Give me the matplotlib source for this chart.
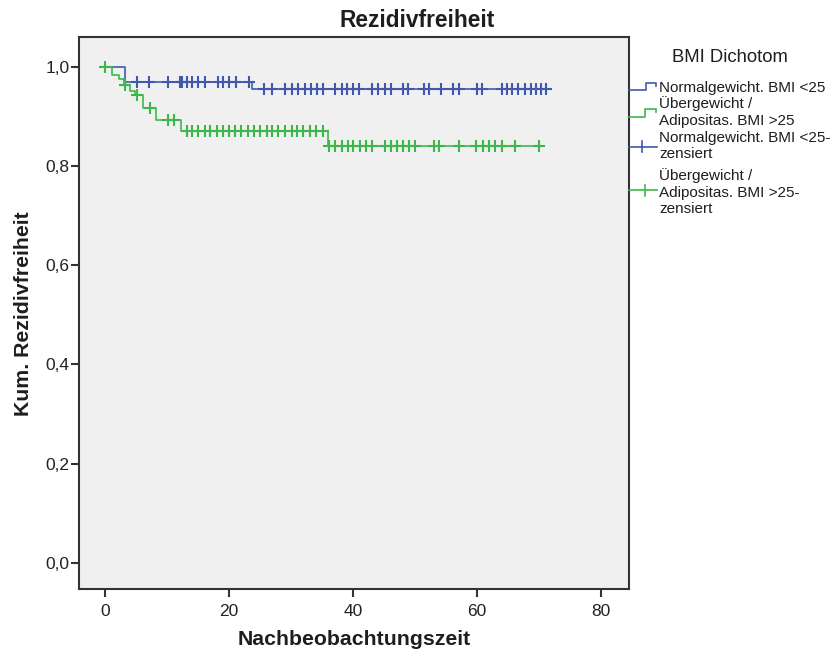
import matplotlib
matplotlib.use("Agg")
import matplotlib.pyplot as plt
from matplotlib.ticker import FuncFormatter

plt.rcParams['font.family'] = ['Liberation Sans', 'DejaVu Sans']

# Kaplan-Meier step values (time, survival)
normal_times = [0, 3.3, 23.7, 71.2]
normal_surv = [1.0, 0.969, 0.955, 0.955]
normal_censored = [5.1, 7.1, 10.2, 12.1, 12.4, 13.2, 14.0, 15.0, 16.1, 18.2, 19.1,
                   20.0, 21.1, 23.2, 25.7, 26.9, 29.0, 30.1, 31.2, 32.3, 33.2, 34.2,
                   35.1, 37.1, 38.2, 39.0, 40.0, 41.0, 43.1, 44.1, 45.2, 46.1, 48.1,
                   48.9, 51.4, 52.2, 54.2, 56.2, 57.1, 60.0, 60.9, 64.0, 64.8, 65.7,
                   66.7, 67.7, 68.7, 69.6, 70.4, 71.2]

over_times = [0, 1.2, 2.2, 3.0, 4.1, 4.8, 6.1, 8.2, 12.2, 36.0, 70.0]
over_surv = [1.0, 0.984, 0.976, 0.963, 0.952, 0.944, 0.918, 0.893, 0.871, 0.840, 0.840]
over_censored = [0.0, 3.2, 5.1, 7.3, 10.2, 11.1, 13.2, 14.1, 15.0, 16.1, 17.0, 18.0,
                 19.1, 20.0, 21.0, 22.0, 23.1, 24.0, 25.0, 26.1, 27.0, 27.9, 29.0,
                 30.1, 30.9, 32.0, 33.0, 34.0, 35.1, 36.2, 37.1, 38.2, 39.2, 40.0,
                 41.1, 42.1, 43.0, 45.2, 46.1, 47.1, 48.1, 49.1, 50.0, 53.0, 53.9,
                 57.1, 59.9, 61.0, 62.0, 62.9, 64.0, 66.1, 70.0]

x_ticks = [0, 20, 40, 60, 80]
y_ticks = [0.0, 0.2, 0.4, 0.6, 0.8, 1.0]

legend_title = "BMI Dichotom"
group_labels = [["Normalgewicht. BMI <25"],
                ["Übergewicht /", "Adipositas. BMI >25"],
                ["Normalgewicht. BMI <25-", "zensiert"],
                ["Übergewicht /", "Adipositas. BMI >25-", "zensiert"]]

BLUE = "#4159ad"
GREEN = "#3cb84a"
TEXT = "#1e1e1e"


def surv_at(times, surv, t):
    val = surv[0]
    for ti, si in zip(times, surv):
        if t >= ti:
            val = si
    return val


fig = plt.figure(figsize=(8.35, 6.54), dpi=100)
fig.patch.set_facecolor("white")
ax = fig.add_axes([0.0946, 0.0994, 0.6584, 0.8436])
ax.set_facecolor("#f0f0f0")

ax.step(normal_times, normal_surv, where="post", color=BLUE, lw=1.2, zorder=3)
ax.step(over_times, over_surv, where="post", color=GREEN, lw=1.2, zorder=3)
ax.plot(normal_censored, [surv_at(normal_times, normal_surv, t) for t in normal_censored],
        ls="none", marker="+", ms=9, mew=1.5, color=BLUE, zorder=4)
ax.plot(over_censored, [surv_at(over_times, over_surv, t) for t in over_censored],
        ls="none", marker="+", ms=9, mew=1.5, color=GREEN, zorder=4)

ax.set_xlim(-4.2, 84.5)
ax.set_ylim(-0.053, 1.06)
ax.set_xticks(x_ticks)
ax.set_yticks(y_ticks)
ax.yaxis.set_major_formatter(FuncFormatter(lambda v, p: f"{v:.1f}".replace(".", ",")))
ax.tick_params(axis="both", direction="out", length=6, width=1.5, color="#333333",
               labelsize=12.5, labelcolor="#222222")
ax.tick_params(axis="x", pad=4.5)
ax.tick_params(axis="y", pad=0.8)
for s in ax.spines.values():
    s.set_color("#333333")
    s.set_linewidth(1.5)

ax.set_xlabel("Nachbeobachtungszeit", fontsize=15.3, fontweight="bold", color=TEXT)
ax.xaxis.set_label_coords(0.5, -0.075)
ax.set_ylabel("Kum. Rezidivfreiheit", fontsize=15.3, fontweight="bold", color=TEXT)
ax.yaxis.set_label_coords(-0.084, 0.5)
fig.text(0.5, 0.969, "Rezidivfreiheit", ha="center", va="center", fontsize=16.4,
         fontweight="bold", color=TEXT)

# Legend drawn in pixel coordinates to the right of the plot
lg = fig.add_axes([0, 0, 1, 1], facecolor="none")
lg.set_xlim(0, 835)
lg.set_ylim(654, 0)
lg.axis("off")
lg.text(730, 58, legend_title, ha="center", va="center", fontsize=13.3, color=TEXT)
lg.plot([629, 646, 646, 656, 656], [90, 90, 82.5, 82.5, 86], color=BLUE, lw=1.2)
lg.plot([629, 645, 645, 656, 656], [116.5, 116.5, 108.5, 108.5, 112], color=GREEN, lw=1.2)
lg.plot([629, 657], [146.5, 146.5], color=BLUE, lw=1.2)
lg.plot([642, 642], [141, 152], color=BLUE, lw=1.2)
lg.plot([629, 657], [190, 190], color=GREEN, lw=1.2)
lg.plot([645, 645], [184.5, 195.5], color=GREEN, lw=1.2)
line_centres = [[88], [104, 121], [138, 154], [176, 193, 209]]
for ys, lines in zip(line_centres, group_labels):
    for y, txt in zip(ys, lines):
        lg.text(659, y, txt, ha="left", va="center", fontsize=11, color=TEXT)

fig.savefig("out.png", dpi=100)
